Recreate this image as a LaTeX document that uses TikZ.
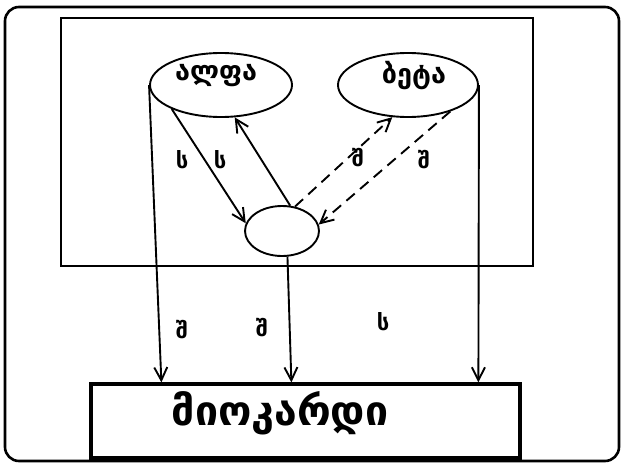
\documentclass[tikz,border=0pt]{standalone}
\usepackage{fontspec}
\newfontfamily\geo{DejaVu Sans}
\usetikzlibrary{shapes.geometric,arrows.meta,calc}
\begin{document}
\begin{tikzpicture}[x=1pt,y=-1pt,
  ln/.style={line width=1.9pt},
  arr/.style={ln,-{Straight Barb[length=13pt,width=13pt,line width=1.9pt]}},
  dsh/.style={arr,dash pattern=on 11pt off 7pt},
  ell/.style={draw,ellipse,line width=1.9pt,inner sep=0pt},
  big/.style={font=\geo\bfseries\fontsize{27}{30}\selectfont},
  lab/.style={font=\geo\bfseries\fontsize{22}{24}\selectfont,inner sep=0pt}]
\useasboundingbox (0,0) rectangle (624,463);
% outer frame
\draw[line width=2.6pt,rounded corners=14pt] (5,7) rectangle (619,461);
% inner frame
\node[draw,line width=2pt,minimum width=472pt,minimum height=248pt,inner sep=0pt] (inner) at (297,142) {};
% ellipses
\node[ell,minimum width=142pt,minimum height=64pt] (alpha) at (221,85) {};
\node[ell,minimum width=140pt,minimum height=64pt] (beta) at (408,85) {};
\node[ell,minimum width=74pt,minimum height=50pt] (circ) at (282,231) {};
\node[big] (alphat) at (216,76) {ალფა};
\node[big] (betat) at (414,76) {ბეტა};
% bottom box
\node[draw,line width=3.2pt,minimum width=429pt,minimum height=74pt,inner sep=0pt] (myo) at (305.5,421) {};
\node[font=\geo\bfseries\fontsize{41}{44}\selectfont] (myot) at (280,413) {მიოკარდი};
% arrows inside
\draw[arr] (alpha.206) -- (circ.168);
\draw[arr] (circ.72) -- (alpha.293);
\draw[dsh] (circ.62) -- (beta.244);
\draw[dsh] (beta.328) -- (circ.10);
% arrows down
\draw[arr] (alpha.west) -- ([xshift=72pt]myo.north west);
\draw[arr] (circ.-78) -- ([xshift=202pt]myo.north west);
\draw[arr] (beta.east) -- ([xshift=389pt]myo.north west);
% labels
\node[lab] (l1) at (182,160) {ს};
\node[lab] (l2) at (220,160) {ს};
\node[lab] (l3) at (358,158) {შ};
\node[lab] (l4) at (424,160) {შ};
\node[lab] (l5) at (182,330) {შ};
\node[lab] (l6) at (262,328) {შ};
\node[lab] (l7) at (383,322) {ს};
\end{tikzpicture}
\end{document}
